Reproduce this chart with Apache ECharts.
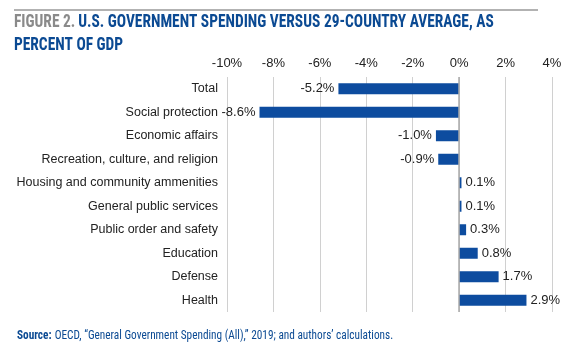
<!DOCTYPE html>
<html>
<head>
<meta charset="utf-8">
<script src="https://cdn.jsdelivr.net/npm/echarts@6/dist/echarts.min.js"></script>
<style>
html,body{margin:0;padding:0;background:#fff;}
#chart{width:580px;height:359px;}
</style>
</head>
<body>
<div id="chart"></div>
<script>
var categories = ["Total","Social protection","Economic affairs","Recreation, culture, and religion","Housing and community ammenities","General public services","Public order and safety","Education","Defense","Health"];
var values = [-5.2,-8.6,-1.0,-0.9,0.1,0.1,0.3,0.8,1.7,2.9];
var tickMin = -10, tickMax = 4, tickStep = 2;

var chart = echarts.init(document.getElementById('chart'));
var narrow = '"Liberation Sans Narrow", "Arial Narrow", "Roboto Condensed", sans-serif';
var sans = '"Liberation Sans", Arial, sans-serif';
chart.setOption({
  animation: false,
  graphic: [
    {type:'line', shape:{x1:14,y1:10,x2:538,y2:10}, style:{stroke:'#999',lineWidth:1.5}},
    {type:'text', x:14, y:11, scaleX:0.857, style:{rich:{g:{fill:'#8a8a8a',fontFamily:narrow,fontWeight:'bold',fontSize:18},b:{fill:'#0b4a93',fontFamily:narrow,fontWeight:'bold',fontSize:18}}, text:'{g|FIGURE 2.} {b|U.S. GOVERNMENT SPENDING VERSUS 29-COUNTRY AVERAGE, AS}\n{b|PERCENT OF GDP}', lineHeight:23}},
    {type:'text', x:17, y:330, scaleX:0.94, style:{rich:{s:{fill:'#0b4a93',fontFamily:narrow,fontWeight:'bold',fontSize:12},t:{fill:'#0b4a93',fontFamily:narrow,fontSize:12}}, text:'{s|Source:} {t|OECD, \u201cGeneral Government Spending (All),\u201d 2019; and authors\u2019 calculations.}'}}
  ],
  grid: {left:227, right:28, top:77, bottom:47},
  xAxis: {
    type:'value', position:'top', min:tickMin, max:tickMax, interval:tickStep,
    axisLine:{show:false}, axisTick:{show:false},
    splitLine:{lineStyle:{color:'#d0d0d0',width:1}},
    axisLabel:{formatter:'{value}%', color:'#222', fontSize:13, margin:7, fontFamily:sans}
  },
  yAxis: {
    type:'category', data:categories, inverse:true,
    axisLine:{show:false}, axisTick:{show:false},
    axisLabel:{color:'#222', fontSize:12.5, margin:9, fontFamily:sans}
  },
  series: [{
    type:'bar', barWidth:11,
    itemStyle:{color:'#0d4c9f'},
    data: values.map(function(v){
      return {value:v, label:{show:true, position: v<0?'left':'right', distance:4, formatter: function(p){return p.value.toFixed(1)+'%';}, color:'#222', fontSize:13, fontFamily:sans}};
    }),
    markLine: {silent:true, symbol:'none', label:{show:false}, lineStyle:{color:'#aaa',type:'solid',width:1.5}, data:[{xAxis:0}]}
  }]
});
</script>
</body>
</html>
